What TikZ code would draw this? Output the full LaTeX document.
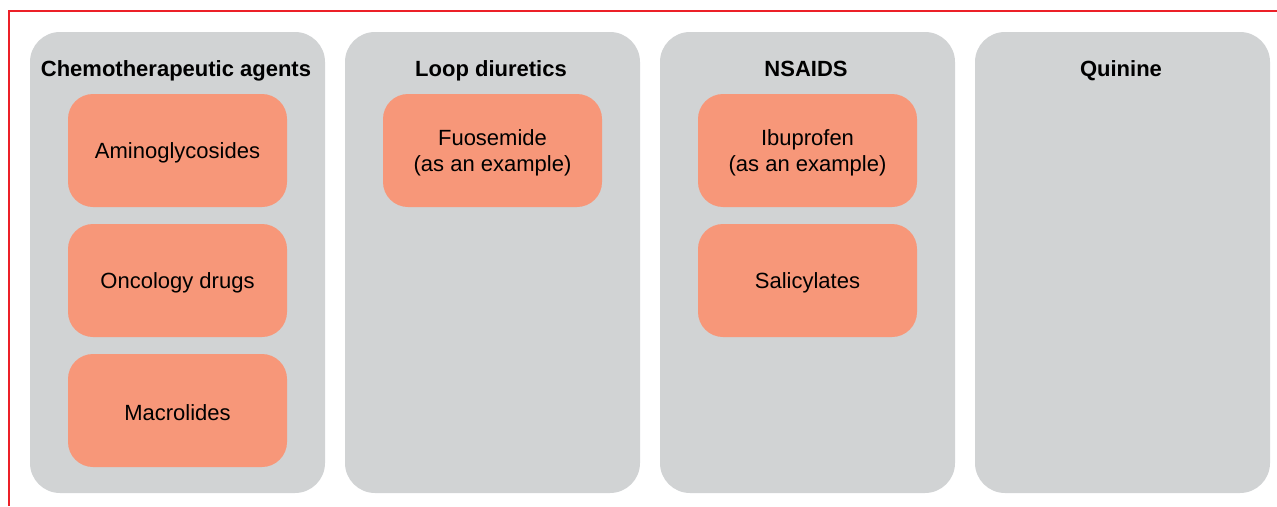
\documentclass[tikz,border=0pt]{standalone}
\usepackage{fontspec}
\setmainfont{Liberation Sans}
\usepackage{xcolor}
\usepackage{tikz}
\usetikzlibrary{positioning}

\definecolor{frame}{RGB}{236,32,40}
\definecolor{panel}{RGB}{209,211,212}
\definecolor{drug}{RGB}{247,151,121}

\tikzset{
  group/.style={fill=panel, rounded corners=30pt, minimum width=295pt, minimum height=461pt, inner sep=0pt},
  grouptitle/.style={font=\fontsize{22}{25}\selectfont\bfseries, inner sep=0pt, anchor=base},
  drugtext/.style={align=center, font=\fontsize{22}{25.5}\selectfont, inner sep=0pt, yshift=-2.5pt},
  drugbox/.style={fill=drug, rounded corners=25pt, minimum width=219pt, minimum height=113pt,
    inner sep=0pt, label={[drugtext]center:#1}}
}

\begin{document}
\begin{tikzpicture}[x=1pt,y=-1pt]
            \useasboundingbox (0,0) rectangle (1277,506);
            \draw [frame, line width=1.5pt] (9,506) -- (9,11) -- (1277,11);
            % groups
            \node [group] (chemo)  at (177.5,262.5)  {};
            \node [group] (loop)   at (492.5,262.5)  {};
            \node [group] (nsaids) at (807.5,262.5)  {};
            \node [group] (quin)   at (1122.5,262.5) {};
            \node [grouptitle] (chemot)  at (176,76)  {Chemotherapeutic agents};
            \node [grouptitle] (loopt)   at (491,76)  {Loop diuretics};
            \node [grouptitle] (nsaidst) at (806,76)  {NSAIDS};
            \node [grouptitle] (quint)   at (1121,76) {Quinine};
            % drugs
            \node [drugbox={Aminoglycosides}] (amino) at (177.5,150.5) {};
            \node [drugbox={Oncology drugs}]  (onco)  at (177.5,280.5) {};
            \node [drugbox={Macrolides}]      (macro) at (177.5,410.5) {};
            \node [drugbox={Fuosemide\\(as an example)}] (furo) at (492.5,150.5) {};
            \node [drugbox={Ibuprofen\\(as an example)}] (ibu)  at (807.5,150.5) {};
            \node [drugbox={Salicylates}]     (sali)  at (807.5,280.5) {};
        \end{tikzpicture}
\end{document}
